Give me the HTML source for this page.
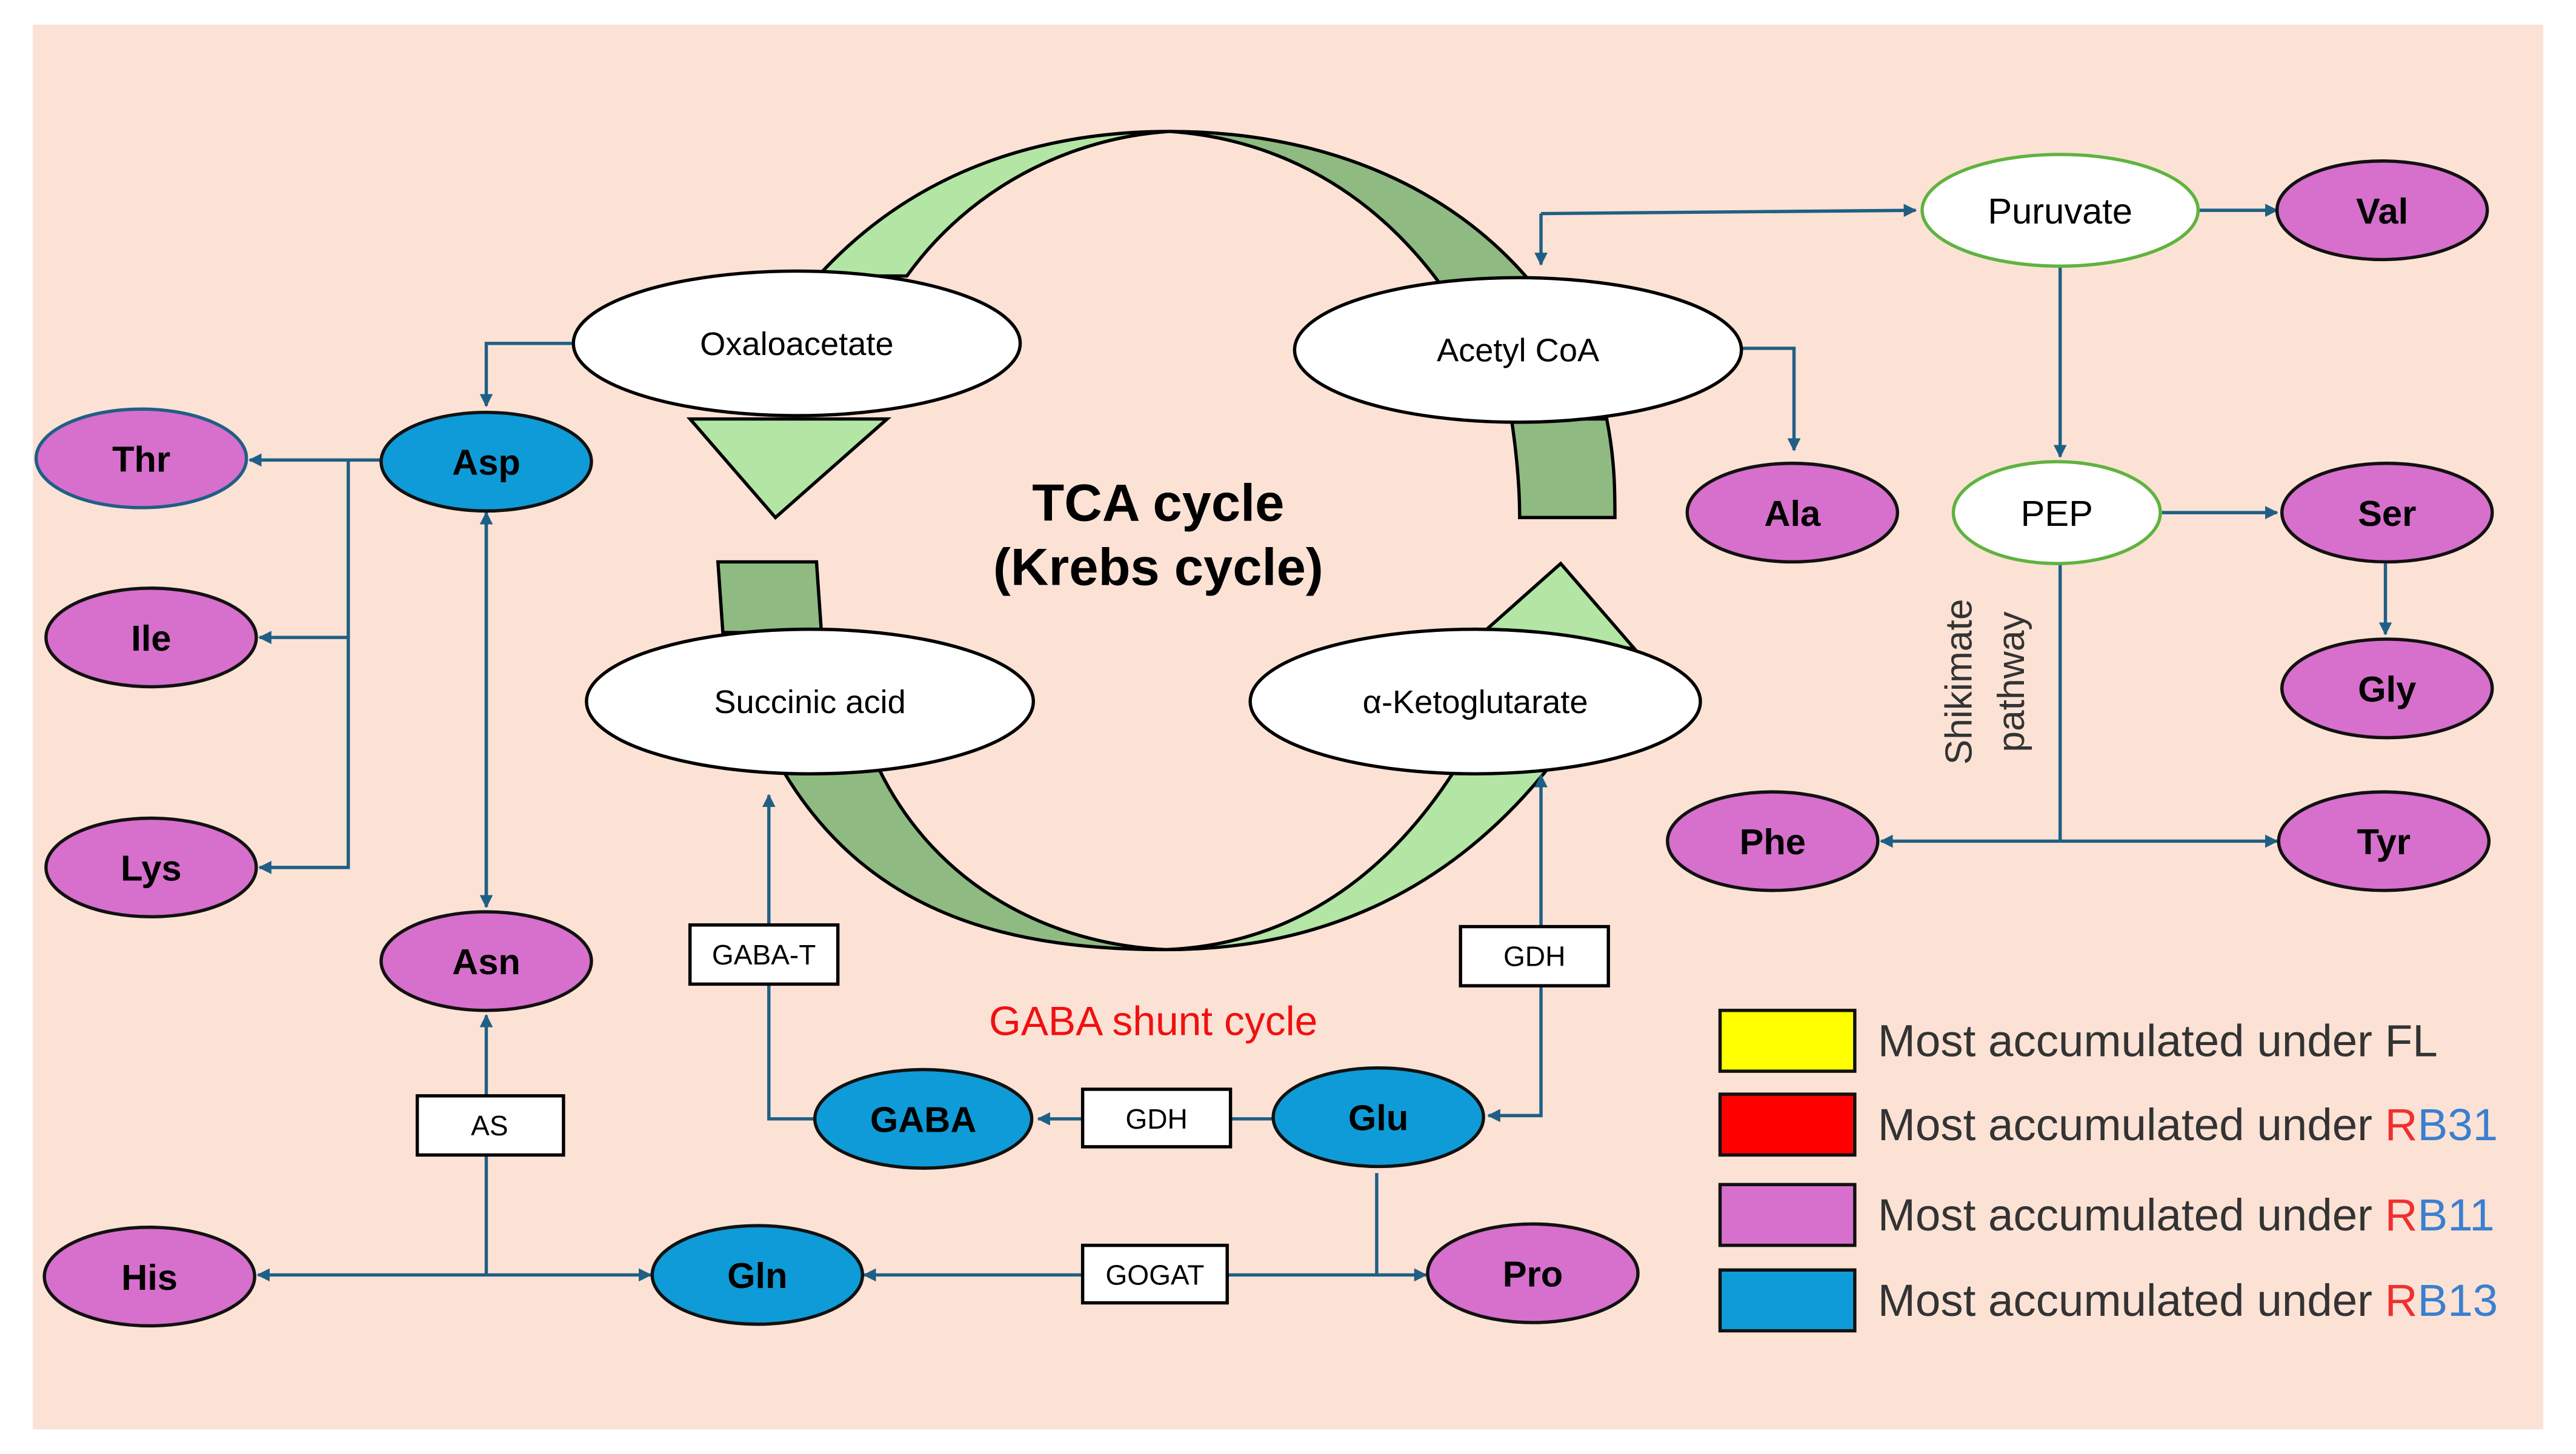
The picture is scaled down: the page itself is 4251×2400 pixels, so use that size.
<!DOCTYPE html>
<html><head><meta charset="utf-8"><style>
html,body{margin:0;padding:0;background:#fff}
svg{display:block}
text{font-family:"Liberation Sans",sans-serif}
.b{font-weight:bold;font-size:22px}
</style></head><body>
<svg width="4251" height="2400" viewBox="0 0 1568 885" preserveAspectRatio="none" xmlns="http://www.w3.org/2000/svg">
<defs>
<marker id="a" viewBox="0 0 10 10" refX="9" refY="5" markerWidth="4" markerHeight="4" orient="auto"><path d="M0,0L10,5L0,10z" fill="#1f5f85"/></marker>
</defs>
<rect x="20" y="15" width="1528" height="855" fill="#fbe2d5"/>
<g stroke="#000" stroke-width="2">
<path d="M498,168 C560,100 640,80 712,80 C650,84 590,115 552,168 Z" fill="#b3e5a4"/>
<path d="M712,80 C800,80 880,110 932,172 L876,172 C830,110 770,84 712,80 Z" fill="#8fba82"/>
<path d="M920,255 L978,255 C983,280 983,300 983,315 L925,315 C925,295 923,275 920,255 Z" fill="#8fba82"/>
<path d="M420,255 L540,255 L472,315 Z" fill="#b3e5a4"/>
<path d="M437,342 L497,342 L500,385 L440,385 Z" fill="#8fba82"/>
<path d="M905,383 L950,343 L995,395 Z" fill="#b3e5a4"/>
<path d="M476,468 C530,560 620,578 710,578 C640,575 570,540 535,468 Z" fill="#8fba82"/>
<path d="M710,578 C800,578 880,545 942,468 L886,468 C840,540 780,575 710,578 Z" fill="#b3e5a4"/>
</g>
<g stroke="#1f5f85" stroke-width="2" fill="none">
<path d="M348,209 H296 V247" marker-end="url(#a)"/>
<path d="M1060,212 H1092 V274" marker-end="url(#a)"/>
<path d="M938,130 L1166,128" marker-end="url(#a)"/>
<path d="M938,130 V161" marker-end="url(#a)"/>
<path d="M1338,128 H1386" marker-end="url(#a)"/>
<path d="M1254,162 V278" marker-end="url(#a)"/>
<path d="M1316,312 H1386" marker-end="url(#a)"/>
<path d="M1452,343 V386" marker-end="url(#a)"/>
<path d="M1254,343 V512"/>
<path d="M1254,512 H1145" marker-end="url(#a)"/>
<path d="M1254,512 H1386" marker-end="url(#a)"/>
<path d="M232,280 H152" marker-end="url(#a)"/>
<path d="M212,280 V528 H158" marker-end="url(#a)"/>
<path d="M212,388 H158" marker-end="url(#a)"/>
<path d="M296,312 V552" marker-end="url(#a)"/>
<path d="M296,552 V312" marker-end="url(#a)"/>
<path d="M296,776 V618" marker-end="url(#a)"/>
<path d="M296,776 H157" marker-end="url(#a)"/>
<path d="M296,776 H396" marker-end="url(#a)"/>
<path d="M838,714 V776 H526" marker-end="url(#a)"/>
<path d="M838,776 H868" marker-end="url(#a)"/>
<path d="M776,681 H632" marker-end="url(#a)"/>
<path d="M496,681 H468 V484" marker-end="url(#a)"/>
<path d="M938,600 V679 H906" marker-end="url(#a)"/>
<path d="M938,564 V472" marker-end="url(#a)"/>
</g>
<g fill="#fff" stroke="#000" stroke-width="2">
<ellipse cx="485" cy="209" rx="136" ry="44"/>
<ellipse cx="924" cy="213" rx="136" ry="44"/>
<ellipse cx="493" cy="427" rx="136" ry="44"/>
<ellipse cx="898" cy="427" rx="137" ry="44"/>
</g>
<g fill="#fff" stroke="#5fb33f" stroke-width="2">
<ellipse cx="1254" cy="128" rx="84" ry="34"/>
<ellipse cx="1252" cy="312" rx="63" ry="31"/>
</g>
<g font-size="20" text-anchor="middle">
<text x="485" y="216">Oxaloacetate</text>
<text x="924" y="220">Acetyl CoA</text>
<text x="493" y="434">Succinic acid</text>
<text x="898" y="434">α-Ketoglutarate</text>
<text x="1254" y="136" font-size="22">Puruvate</text>
<text x="1252" y="320" font-size="22">PEP</text>
</g>
<g stroke="#111" stroke-width="2">
<g fill="#d76fcc">
<ellipse cx="86" cy="279" rx="64" ry="30" stroke="#1f5f85"/>
<ellipse cx="92" cy="388" rx="64" ry="30"/>
<ellipse cx="92" cy="528" rx="64" ry="30"/>
<ellipse cx="296" cy="585" rx="64" ry="30"/>
<ellipse cx="91" cy="777" rx="64" ry="30"/>
<ellipse cx="1091" cy="312" rx="64" ry="30"/>
<ellipse cx="1450" cy="128" rx="64" ry="30"/>
<ellipse cx="1453" cy="312" rx="64" ry="30"/>
<ellipse cx="1453" cy="419" rx="64" ry="30"/>
<ellipse cx="1079" cy="512" rx="64" ry="30"/>
<ellipse cx="1451" cy="512" rx="64" ry="30"/>
<ellipse cx="933" cy="775" rx="64" ry="30"/>
</g>
<g fill="#0f9bd7">
<ellipse cx="296" cy="281" rx="64" ry="30"/>
<ellipse cx="562" cy="681" rx="66" ry="30"/>
<ellipse cx="839" cy="680" rx="64" ry="30"/>
<ellipse cx="461" cy="776" rx="64" ry="30"/>
</g>
</g>
<g class="b" text-anchor="middle">
<text x="86" y="287">Thr</text><text x="92" y="396">Ile</text><text x="92" y="536">Lys</text>
<text x="296" y="593">Asn</text><text x="91" y="785">His</text><text x="1091" y="320">Ala</text>
<text x="1450" y="136">Val</text><text x="1453" y="320">Ser</text><text x="1453" y="427">Gly</text>
<text x="1079" y="520">Phe</text><text x="1451" y="520">Tyr</text><text x="933" y="783">Pro</text>
<text x="296" y="289">Asp</text><text x="562" y="689">GABA</text><text x="839" y="688">Glu</text><text x="461" y="784">Gln</text>
</g>
<g fill="#fff" stroke="#000" stroke-width="2">
<rect x="420" y="563" width="90" height="36"/>
<rect x="889" y="564" width="90" height="36"/>
<rect x="659" y="663" width="90" height="35"/>
<rect x="254" y="667" width="89" height="36"/>
<rect x="659" y="758" width="88" height="35"/>
</g>
<g font-size="17" text-anchor="middle">
<text x="465" y="587">GABA-T</text><text x="934" y="588">GDH</text><text x="704" y="687">GDH</text>
<text x="298" y="691">AS</text><text x="703" y="782">GOGAT</text>
</g>
<text x="705" y="317" font-size="32" font-weight="bold" text-anchor="middle">TCA cycle</text>
<text x="705" y="356" font-size="32" font-weight="bold" text-anchor="middle">(Krebs cycle)</text>
<text x="702" y="630" font-size="25" fill="#f01010" text-anchor="middle">GABA shunt cycle</text>
<text transform="translate(1200,415) rotate(-90)" font-size="23" fill="#333" text-anchor="middle">Shikimate</text>
<text transform="translate(1232,415) rotate(-90)" font-size="23" fill="#333" text-anchor="middle">pathway</text>
<g stroke="#111" stroke-width="2">
<rect x="1047" y="615" width="82" height="37" fill="#ffff00"/>
<rect x="1047" y="666" width="82" height="37" fill="#ff0000"/>
<rect x="1047" y="721" width="82" height="37" fill="#d76fcc"/>
<rect x="1047" y="773" width="82" height="37" fill="#0f9bd7"/>
</g>
<g font-size="27.5" fill="#333">
<text x="1143" y="643">Most accumulated under FL</text>
<text x="1143" y="694">Most accumulated under <tspan fill="#f03030">R</tspan><tspan fill="#3a7fd0">B31</tspan></text>
<text x="1143" y="749">Most accumulated under <tspan fill="#f03030">R</tspan><tspan fill="#3a7fd0">B11</tspan></text>
<text x="1143" y="801">Most accumulated under <tspan fill="#f03030">R</tspan><tspan fill="#3a7fd0">B13</tspan></text>
</g>
</svg>
</body></html>
